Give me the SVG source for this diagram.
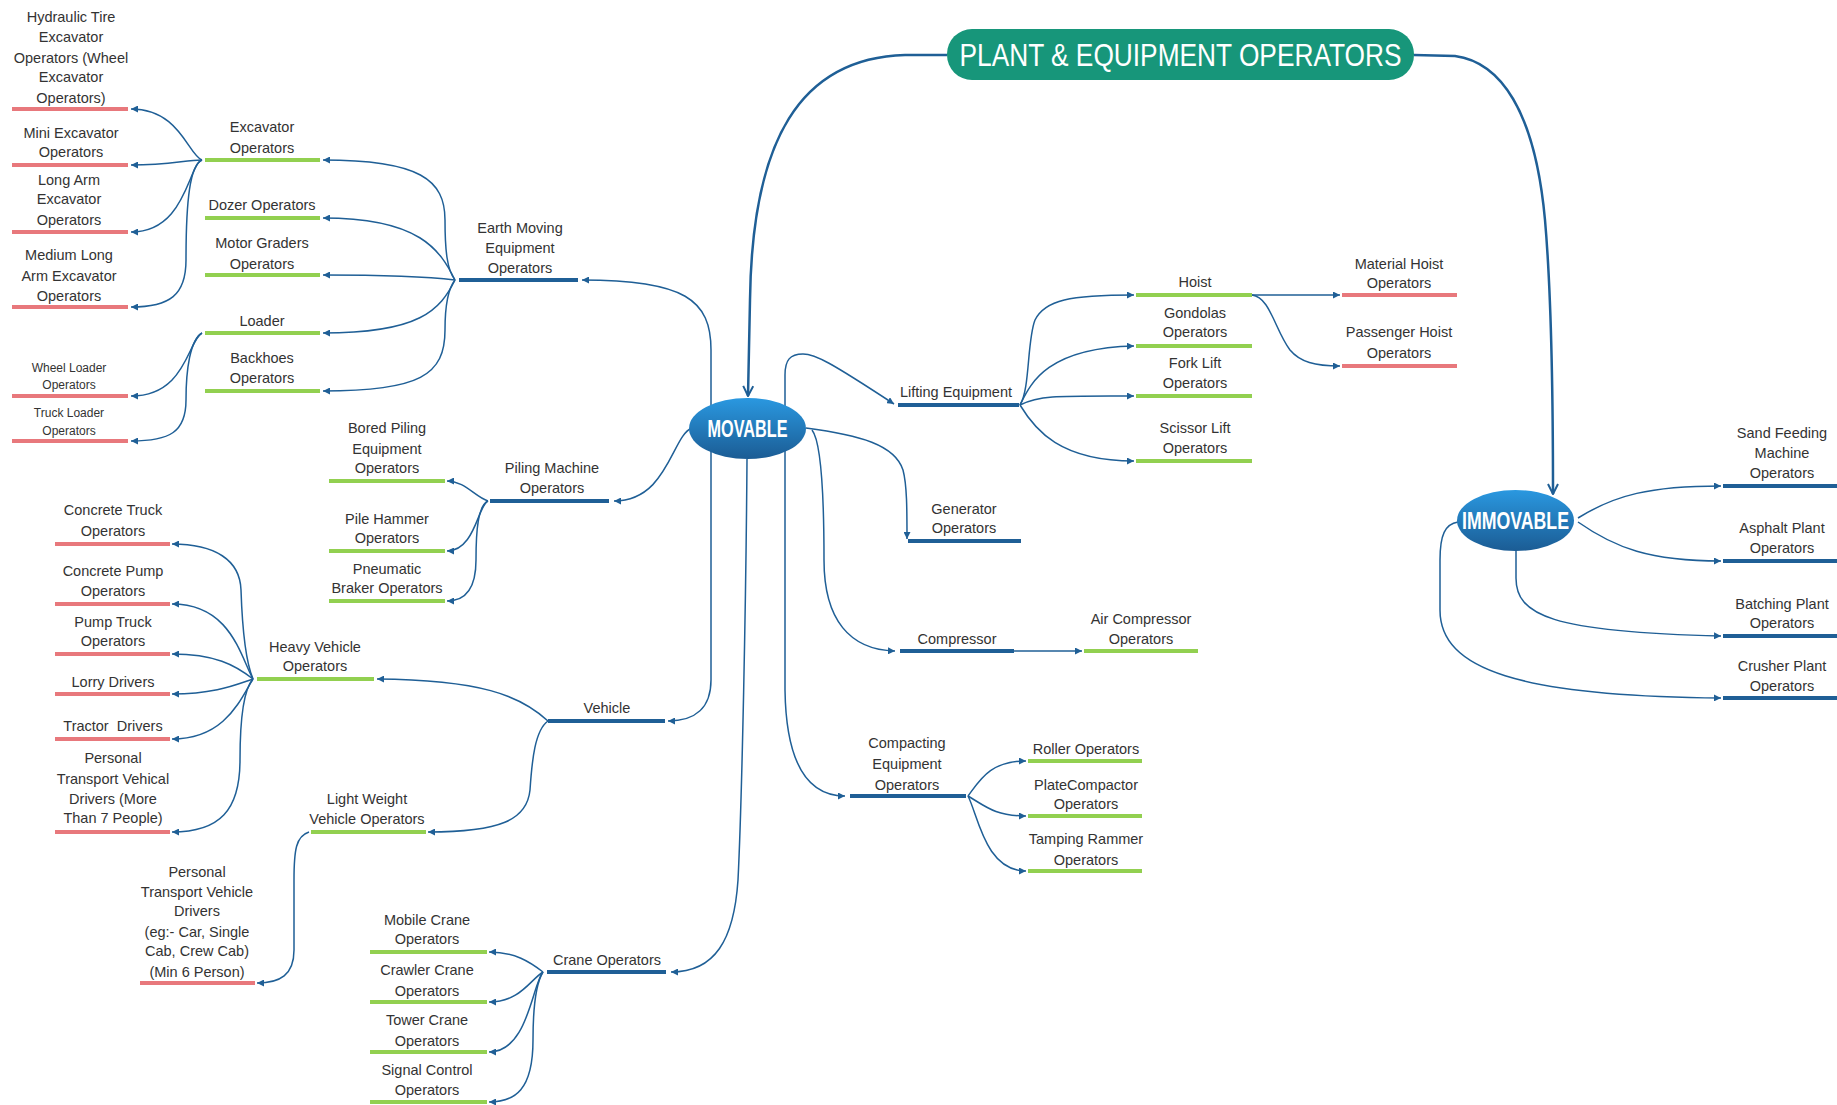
<svg xmlns="http://www.w3.org/2000/svg" width="1837" height="1105" viewBox="0 0 1837 1105">
<style>
.t{font-family:"Liberation Sans Narrow","Liberation Sans",Arial,sans-serif;font-size:14.5px;fill:#333;text-anchor:middle}
.s{font-size:12px}
.bar{stroke-width:4;fill:none}
.bg{stroke:#92d050}
.br{stroke:#e8787c}
.bb{stroke:#1f5f96}
.c{fill:none;stroke:#1f5f96;stroke-width:1.5;marker-end:url(#a)}
.m{fill:none;stroke:#1f5f96;stroke-width:2.5;marker-end:url(#v)}
.ov{font-family:"Liberation Sans",Arial,sans-serif;font-weight:bold;font-size:23px;fill:#fff;text-anchor:middle}
</style>
<defs>
<marker id="a" viewBox="0 0 10 10" refX="10" refY="5" markerWidth="7" markerHeight="7" markerUnits="userSpaceOnUse" orient="auto"><path d="M0,0 L10,5 L0,10 z" fill="#1f5f96"/></marker>
<marker id="v" viewBox="0 0 12 12" refX="11" refY="6" markerWidth="12" markerHeight="12" markerUnits="userSpaceOnUse" orient="auto"><path d="M1,1 L11,6 L1,11" fill="none" stroke="#1f5f96" stroke-width="2"/></marker>
<linearGradient id="g" x1="0" y1="0" x2="0" y2="1"><stop offset="0" stop-color="#2a98e0"/><stop offset="1" stop-color="#1b5c94"/></linearGradient>
</defs>
<rect width="1837" height="1105" fill="#fff"/>
<g id="connectors">
<path class="m" d="M947,55 L905,55 C800,58 752,140 750,300 L748,396"/>
<path class="m" d="M1414,55 L1455,56 C1500,62 1535,110 1545,220 C1552,300 1553,400 1553,494"/>
<path class="c" d="M711,440 L711,350 C711,300 685,280 582,280"/>
<path class="c" d="M692,428 C672,435 668,501 614,501"/>
<path class="c" d="M711,440 L711,680 C711,708 695,721 668,721"/>
<path class="c" d="M747,459 C746,600 742,800 738,880 C734,940 715,972 671,972"/>
<path class="c" d="M785,440 L785,375 C785,360 790,354 803,354 C815,354 830,362 894,404"/>
<path class="c" d="M806,428 C860,435 895,445 903,470 C907,485 907,510 907,539"/>
<path class="c" d="M812,430 C820,440 824,480 824,560 C824,620 850,650 895,651"/>
<path class="c" d="M785,440 L785,690 C786,760 805,796 845,796"/>
<path class="c" d="M455,280 C447,270 445,250 445,220 C445,180 420,160 323,160"/>
<path class="c" d="M455,280 C440,250 420,218 323,218"/>
<path class="c" d="M455,280 C430,277 400,275 323,275"/>
<path class="c" d="M455,280 C440,310 420,333 323,333"/>
<path class="c" d="M455,280 C447,290 445,310 445,330 C445,375 420,391 323,391"/>
<path class="c" d="M202,160 C188,155 180,109 131,109"/>
<path class="c" d="M202,160 C185,160 170,165 131,165"/>
<path class="c" d="M202,160 C188,165 186,232 131,232"/>
<path class="c" d="M202,160 C190,165 186,200 186,260 C186,295 170,307 131,307"/>
<path class="c" d="M202,333 C188,340 186,396 131,396"/>
<path class="c" d="M202,333 C190,340 186,370 186,400 C186,432 170,441 131,441"/>
<path class="c" d="M488,501 C475,497 465,481 447,481"/>
<path class="c" d="M488,501 C478,505 475,551 447,551"/>
<path class="c" d="M488,501 C478,506 476,530 476,560 C476,590 465,601 447,601"/>
<path class="c" d="M548,721 C520,695 480,680 377,679"/>
<path class="c" d="M548,721 C535,730 532,760 530,790 C527,820 500,832 428,832"/>
<path class="c" d="M253,679 C245,660 242,620 241,590 C240,560 215,544 172,544"/>
<path class="c" d="M253,679 C240,655 230,604 172,604"/>
<path class="c" d="M253,679 C235,665 215,654 172,654"/>
<path class="c" d="M253,679 C235,685 215,694 172,694"/>
<path class="c" d="M253,679 C240,700 225,739 172,739"/>
<path class="c" d="M253,679 C243,690 240,720 240,760 C240,810 220,832 172,832"/>
<path class="c" d="M309,832 C296,836 294,850 294,880 L294,950 C294,975 280,983 257,983"/>
<path class="c" d="M543,972 C530,962 515,952 489,952"/>
<path class="c" d="M543,972 C530,980 520,1002 489,1002"/>
<path class="c" d="M543,972 C532,985 528,1052 489,1052"/>
<path class="c" d="M543,972 C535,985 533,1010 533,1040 C533,1090 515,1102 489,1102"/>
<path class="c" d="M1020,405 C1030,390 1027,340 1035,320 C1045,300 1070,295 1134,295"/>
<path class="c" d="M1020,405 C1030,385 1045,348 1134,346"/>
<path class="c" d="M1020,405 C1040,395 1060,396 1134,396"/>
<path class="c" d="M1020,405 C1035,430 1060,461 1134,461"/>
<path class="c" d="M1252,295 L1340,295"/>
<path class="c" d="M1252,295 C1270,297 1275,330 1290,350 C1300,362 1315,366 1340,366"/>
<path class="c" d="M1014,651 L1082,651"/>
<path class="c" d="M968,796 C980,780 990,761 1026,761"/>
<path class="c" d="M968,796 C985,806 995,816 1026,816"/>
<path class="c" d="M968,796 C978,815 985,871 1026,871"/>
<path class="c" d="M1578,518 C1615,495 1650,486 1721,486"/>
<path class="c" d="M1578,522 C1615,548 1650,561 1721,561"/>
<path class="c" d="M1516,550 L1516,578 C1516,615 1550,632 1721,636"/>
<path class="c" d="M1458,522 C1445,524 1440,535 1440,560 L1440,610 C1440,670 1520,696 1721,698"/>
</g>
<g id="title"><rect x="947" y="29" width="467" height="51" rx="25" fill="#17967a"/><text x="1180.5" y="66" font-family="Liberation Sans, Arial, sans-serif" font-size="31" fill="#fff" text-anchor="middle" textLength="442" lengthAdjust="spacingAndGlyphs">PLANT &amp; EQUIPMENT OPERATORS</text></g>
<g id="movable"><ellipse cx="747.5" cy="428.5" rx="58.5" ry="30.5" fill="url(#g)"/><text class="ov" x="747.5" y="436.5" textLength="80" lengthAdjust="spacingAndGlyphs">MOVABLE</text></g>
<g id="immovable"><ellipse cx="1515.5" cy="520.5" rx="58.5" ry="30.5" fill="url(#g)"/><text class="ov" x="1515.5" y="528.5" textLength="107" lengthAdjust="spacingAndGlyphs">IMMOVABLE</text></g>
<g id="hydraulic"><line class="bar br" x1="12" y1="109" x2="128" y2="109"/><text class="t"><tspan x="71" y="22">Hydraulic Tire</tspan><tspan x="71" y="42">Excavator</tspan><tspan x="71" y="63">Operators (Wheel</tspan><tspan x="71" y="82">Excavator</tspan><tspan x="71" y="103">Operators)</tspan></text></g>
<g id="mini"><line class="bar br" x1="12" y1="165" x2="128" y2="165"/><text class="t"><tspan x="71" y="138">Mini Excavator</tspan><tspan x="71" y="157">Operators</tspan></text></g>
<g id="longarm"><line class="bar br" x1="12" y1="232" x2="128" y2="232"/><text class="t"><tspan x="69" y="185">Long Arm</tspan><tspan x="69" y="204">Excavator</tspan><tspan x="69" y="225">Operators</tspan></text></g>
<g id="medium"><line class="bar br" x1="12" y1="307" x2="128" y2="307"/><text class="t"><tspan x="69" y="260">Medium Long</tspan><tspan x="69" y="281">Arm Excavator</tspan><tspan x="69" y="301">Operators</tspan></text></g>
<g id="wheelloader"><line class="bar br" x1="12" y1="396" x2="128" y2="396"/><text class="t s"><tspan x="69" y="372">Wheel Loader</tspan><tspan x="69" y="389">Operators</tspan></text></g>
<g id="truckloader"><line class="bar br" x1="12" y1="441" x2="128" y2="441"/><text class="t s"><tspan x="69" y="417">Truck Loader</tspan><tspan x="69" y="435">Operators</tspan></text></g>
<g id="excavator"><line class="bar bg" x1="205" y1="160" x2="320" y2="160"/><text class="t"><tspan x="262" y="132">Excavator</tspan><tspan x="262" y="153">Operators</tspan></text></g>
<g id="dozer"><line class="bar bg" x1="205" y1="218" x2="320" y2="218"/><text class="t" x="262" y="210">Dozer Operators</text></g>
<g id="motor"><line class="bar bg" x1="205" y1="275" x2="320" y2="275"/><text class="t"><tspan x="262" y="248">Motor Graders</tspan><tspan x="262" y="269">Operators</tspan></text></g>
<g id="loader"><line class="bar bg" x1="205" y1="333" x2="320" y2="333"/><text class="t" x="262" y="326">Loader</text></g>
<g id="backhoes"><line class="bar bg" x1="205" y1="391" x2="320" y2="391"/><text class="t"><tspan x="262" y="363">Backhoes</tspan><tspan x="262" y="383">Operators</tspan></text></g>
<g id="earthmoving"><line class="bar bb" x1="459" y1="280" x2="578" y2="280"/><text class="t"><tspan x="520" y="233">Earth Moving</tspan><tspan x="520" y="253">Equipment</tspan><tspan x="520" y="273">Operators</tspan></text></g>
<g id="bored"><line class="bar bg" x1="329" y1="481" x2="445" y2="481"/><text class="t"><tspan x="387" y="433">Bored Piling</tspan><tspan x="387" y="454">Equipment</tspan><tspan x="387" y="473">Operators</tspan></text></g>
<g id="pilehammer"><line class="bar bg" x1="329" y1="551" x2="445" y2="551"/><text class="t"><tspan x="387" y="524">Pile Hammer</tspan><tspan x="387" y="543">Operators</tspan></text></g>
<g id="pneumatic"><line class="bar bg" x1="329" y1="601" x2="445" y2="601"/><text class="t"><tspan x="387" y="574">Pneumatic</tspan><tspan x="387" y="593">Braker Operators</tspan></text></g>
<g id="piling"><line class="bar bb" x1="490" y1="501" x2="609" y2="501"/><text class="t"><tspan x="552" y="473">Piling Machine</tspan><tspan x="552" y="493">Operators</tspan></text></g>
<g id="concretetruck"><line class="bar br" x1="55" y1="544" x2="170" y2="544"/><text class="t"><tspan x="113" y="515">Concrete Truck</tspan><tspan x="113" y="536">Operators</tspan></text></g>
<g id="concretepump"><line class="bar br" x1="55" y1="604" x2="170" y2="604"/><text class="t"><tspan x="113" y="576">Concrete Pump</tspan><tspan x="113" y="596">Operators</tspan></text></g>
<g id="pumptruck"><line class="bar br" x1="55" y1="654" x2="170" y2="654"/><text class="t"><tspan x="113" y="627">Pump Truck</tspan><tspan x="113" y="646">Operators</tspan></text></g>
<g id="lorry"><line class="bar br" x1="55" y1="694" x2="170" y2="694"/><text class="t" x="113" y="687">Lorry Drivers</text></g>
<g id="tractor"><line class="bar br" x1="55" y1="739" x2="170" y2="739"/><text class="t" x="113" y="731" xml:space="preserve">Tractor  Drivers</text></g>
<g id="personaltransport"><line class="bar br" x1="55" y1="832" x2="170" y2="832"/><text class="t"><tspan x="113" y="763">Personal</tspan><tspan x="113" y="784">Transport Vehical</tspan><tspan x="113" y="804">Drivers (More</tspan><tspan x="113" y="823">Than 7 People)</tspan></text></g>
<g id="heavy"><line class="bar bg" x1="257" y1="679" x2="374" y2="679"/><text class="t"><tspan x="315" y="652">Heavy Vehicle</tspan><tspan x="315" y="671">Operators</tspan></text></g>
<g id="vehicle"><line class="bar bb" x1="548" y1="721" x2="665" y2="721"/><text class="t" x="607" y="713">Vehicle</text></g>
<g id="lightweight"><line class="bar bg" x1="311" y1="832" x2="426" y2="832"/><text class="t"><tspan x="367" y="804">Light Weight</tspan><tspan x="367" y="824">Vehicle Operators</tspan></text></g>
<g id="ptvdrivers"><line class="bar br" x1="140" y1="983" x2="255" y2="983"/><text class="t"><tspan x="197" y="877">Personal</tspan><tspan x="197" y="897">Transport Vehicle</tspan><tspan x="197" y="916">Drivers</tspan><tspan x="197" y="937">(eg:- Car, Single</tspan><tspan x="197" y="956">Cab, Crew Cab)</tspan><tspan x="197" y="977">(Min 6 Person)</tspan></text></g>
<g id="mobilecrane"><line class="bar bg" x1="370" y1="952" x2="487" y2="952"/><text class="t"><tspan x="427" y="925">Mobile Crane</tspan><tspan x="427" y="944">Operators</tspan></text></g>
<g id="crawlercrane"><line class="bar bg" x1="370" y1="1002" x2="487" y2="1002"/><text class="t"><tspan x="427" y="975">Crawler Crane</tspan><tspan x="427" y="996">Operators</tspan></text></g>
<g id="towercrane"><line class="bar bg" x1="370" y1="1052" x2="487" y2="1052"/><text class="t"><tspan x="427" y="1025">Tower Crane</tspan><tspan x="427" y="1046">Operators</tspan></text></g>
<g id="signalcontrol"><line class="bar bg" x1="370" y1="1102" x2="487" y2="1102"/><text class="t"><tspan x="427" y="1075">Signal Control</tspan><tspan x="427" y="1095">Operators</tspan></text></g>
<g id="crane"><line class="bar bb" x1="547" y1="972" x2="666" y2="972"/><text class="t" x="607" y="965">Crane Operators</text></g>
<g id="lifting"><line class="bar bb" x1="898" y1="405" x2="1019" y2="405"/><text class="t" x="956" y="397">Lifting Equipment</text></g>
<g id="hoist"><line class="bar bg" x1="1136" y1="295" x2="1252" y2="295"/><text class="t" x="1195" y="287">Hoist</text></g>
<g id="gondolas"><line class="bar bg" x1="1136" y1="346" x2="1252" y2="346"/><text class="t"><tspan x="1195" y="318">Gondolas</tspan><tspan x="1195" y="337">Operators</tspan></text></g>
<g id="forklift"><line class="bar bg" x1="1136" y1="396" x2="1252" y2="396"/><text class="t"><tspan x="1195" y="368">Fork Lift</tspan><tspan x="1195" y="388">Operators</tspan></text></g>
<g id="scissor"><line class="bar bg" x1="1136" y1="461" x2="1252" y2="461"/><text class="t"><tspan x="1195" y="433">Scissor Lift</tspan><tspan x="1195" y="453">Operators</tspan></text></g>
<g id="materialhoist"><line class="bar br" x1="1342" y1="295" x2="1457" y2="295"/><text class="t"><tspan x="1399" y="269">Material Hoist</tspan><tspan x="1399" y="288">Operators</tspan></text></g>
<g id="passengerhoist"><line class="bar br" x1="1342" y1="366" x2="1457" y2="366"/><text class="t"><tspan x="1399" y="337">Passenger Hoist</tspan><tspan x="1399" y="358">Operators</tspan></text></g>
<g id="generator"><line class="bar bb" x1="908" y1="541" x2="1021" y2="541"/><text class="t"><tspan x="964" y="514">Generator</tspan><tspan x="964" y="533">Operators</tspan></text></g>
<g id="compressor"><line class="bar bb" x1="900" y1="651" x2="1014" y2="651"/><text class="t" x="957" y="644">Compressor</text></g>
<g id="aircompressor"><line class="bar bg" x1="1084" y1="651" x2="1198" y2="651"/><text class="t"><tspan x="1141" y="624">Air Compressor</tspan><tspan x="1141" y="644">Operators</tspan></text></g>
<g id="compacting"><line class="bar bb" x1="850" y1="796" x2="966" y2="796"/><text class="t"><tspan x="907" y="748">Compacting</tspan><tspan x="907" y="769">Equipment</tspan><tspan x="907" y="790">Operators</tspan></text></g>
<g id="roller"><line class="bar bg" x1="1028" y1="761" x2="1142" y2="761"/><text class="t" x="1086" y="754">Roller Operators</text></g>
<g id="plate"><line class="bar bg" x1="1028" y1="816" x2="1142" y2="816"/><text class="t"><tspan x="1086" y="790">PlateCompactor</tspan><tspan x="1086" y="809">Operators</tspan></text></g>
<g id="tamping"><line class="bar bg" x1="1028" y1="871" x2="1142" y2="871"/><text class="t"><tspan x="1086" y="844">Tamping Rammer</tspan><tspan x="1086" y="865">Operators</tspan></text></g>
<g id="sand"><line class="bar bb" x1="1723" y1="486" x2="1837" y2="486"/><text class="t"><tspan x="1782" y="438">Sand Feeding</tspan><tspan x="1782" y="458">Machine</tspan><tspan x="1782" y="478">Operators</tspan></text></g>
<g id="asphalt"><line class="bar bb" x1="1723" y1="561" x2="1837" y2="561"/><text class="t"><tspan x="1782" y="533">Asphalt Plant</tspan><tspan x="1782" y="553">Operators</tspan></text></g>
<g id="batching"><line class="bar bb" x1="1723" y1="636" x2="1837" y2="636"/><text class="t"><tspan x="1782" y="609">Batching Plant</tspan><tspan x="1782" y="628">Operators</tspan></text></g>
<g id="crusher"><line class="bar bb" x1="1723" y1="698" x2="1837" y2="698"/><text class="t"><tspan x="1782" y="671">Crusher Plant</tspan><tspan x="1782" y="691">Operators</tspan></text></g>
</svg>
